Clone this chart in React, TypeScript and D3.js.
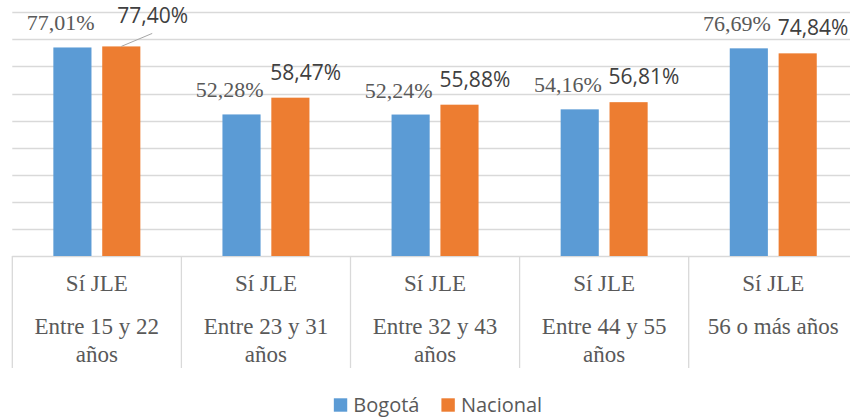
import React from "react";
import * as d3 from "d3";

const categoryTop = ["Sí JLE", "Sí JLE", "Sí JLE", "Sí JLE", "Sí JLE"];
const categoryBottom = [
  "Entre 15 y 22 años",
  "Entre 23 y 31 años",
  "Entre 32 y 43 años",
  "Entre 44 y 55 años",
  "56 o más años",
];
const seriesNames = ["Bogotá", "Nacional"];
const bogota = [77.01, 52.28, 52.24, 54.16, 76.69];
const nacional = [77.4, 58.47, 55.88, 56.81, 74.84];
const yTicks = [0, 10, 20, 30, 40, 50, 60, 70, 80, 90];

const W = 850;
const H = 419;
const COLORS = ["#5B9BD5", "#ED7D31"];
const GRID = "#d9d9d9";
const SERIF = "Liberation Serif";
const SANS = "Open Sans";

const fmt = (v: number) => v.toFixed(2).replace(".", ",") + "%";

let ctx: CanvasRenderingContext2D | null = null;
function measure(text: string, font: string) {
  if (!ctx) ctx = document.createElement("canvas").getContext("2d");
  ctx!.font = font;
  return ctx!.measureText(text).width;
}
function wrap(text: string, maxW: number, font: string) {
  const words = text.split(" ");
  const lines: string[] = [];
  let cur: string[] = [];
  words.forEach((w) => {
    const trial = [...cur, w].join(" ");
    if (cur.length && measure(trial, font) > maxW) {
      lines.push(cur.join(" "));
      cur = [w];
    } else cur.push(w);
  });
  if (cur.length) lines.push(cur.join(" "));
  return lines;
}

export default function App() {
  const plotLeft = 12.3;
  const plotRight = 857.8;
  const plotTop = 12.3;
  const plotBottom = 256;

  const keys = categoryBottom.map((_, i) => "c" + i);
  const x0 = d3.scaleBand<string>().domain(keys).range([plotLeft, plotRight]).padding(0);
  const bw = x0.bandwidth();
  const groupW = 87;
  const x1 = d3
    .scaleBand<string>()
    .domain(seriesNames)
    .range([(bw - groupW) / 2, (bw + groupW) / 2])
    .paddingInner(0.22);
  const y = d3.scaleLinear().domain([0, 90]).range([plotBottom, plotTop]);
  const data = [bogota, nacional];
  const bounds = keys.map((k) => x0(k)!).concat([plotRight]);

  const catFont = `23px "${SERIF}"`;
  const legendFont = `20px "${SANS}"`;
  const legendItems = seriesNames.map((s) => 19.5 + measure(s, legendFont));
  const legendGap = 22;
  const legendTotal = legendItems.reduce((a, b) => a + b, 0) + legendGap * (legendItems.length - 1);
  let lx = 438 - legendTotal / 2;
  const legendX = legendItems.map((w) => {
    const v = lx;
    lx += w + legendGap;
    return v;
  });

  return (
    <svg width={W} height={H} style={{ position: "absolute", left: 0, top: 0, background: "#fff" }}>
      {yTicks.map((t) => (
        <line
          key={t}
          x1={plotLeft}
          x2={plotRight}
          y1={Math.round(y(t)) + 0.5}
          y2={Math.round(y(t)) + 0.5}
          stroke={GRID}
          strokeWidth={1.3}
        />
      ))}
      {bounds.map((b, i) => (
        <line key={i} x1={b} x2={b} y1={plotBottom} y2={368} stroke={GRID} strokeWidth={1.3} />
      ))}
      {seriesNames.map((s, si) =>
        data[si].map((d, i) => (
          <rect
            key={s + i}
            x={x0(keys[i])! + x1(s)!}
            width={x1.bandwidth()}
            y={y(d)}
            height={plotBottom - y(d)}
            fill={COLORS[si]}
          />
        ))
      )}
      {bogota.map((d, i) => (
        <text
          key={"b" + i}
          x={x0(keys[i])! + x1("Bogotá")! + x1.bandwidth() + 3}
          y={y(d) - 17}
          textAnchor="end"
          fontSize={22}
          fill="#595959"
          style={{ fontFamily: SERIF }}
        >
          {fmt(d)}
        </text>
      ))}
      {nacional.map((d, i) => {
        const bx = x0(keys[i])! + x1("Nacional")!;
        const lead = i === 0;
        const tx = bx - 1 + (lead ? 16 : 0);
        const ty = y(d) - 18 + (lead ? -5 : 0);
        return (
          <g key={"n" + i}>
            {lead && (
              <line
                x1={bx + x1.bandwidth() / 2}
                y1={y(d)}
                x2={tx + 35}
                y2={ty + 10}
                stroke="#a6a6a6"
                strokeWidth={1}
              />
            )}
            <text x={tx} y={ty} fontSize={21} fill="#404040" style={{ fontFamily: SANS }}>
              {fmt(d)}
            </text>
          </g>
        );
      })}
      {keys.map((k, i) => {
        const cx = x0(k)! + bw / 2;
        const lines = wrap(categoryBottom[i], 150, catFont);
        return (
          <g key={k} fontSize={23} fill="#595959" style={{ fontFamily: SERIF }} textAnchor="middle">
            <text x={cx} y={291}>
              {categoryTop[i]}
            </text>
            {lines.map((l, li) => (
              <text key={li} x={cx} y={334 + li * 27.5}>
                {l}
              </text>
            ))}
          </g>
        );
      })}
      {seriesNames.map((s, i) => (
        <g key={s} transform={`translate(${legendX[i]},405)`}>
          <rect x={0} y={-6.7} width={13.4} height={13.4} fill={COLORS[i]} />
          <text x={19.5} y={7} fontSize={20} fill="#595959" style={{ fontFamily: SANS }}>
            {s}
          </text>
        </g>
      ))}
    </svg>
  );
}
